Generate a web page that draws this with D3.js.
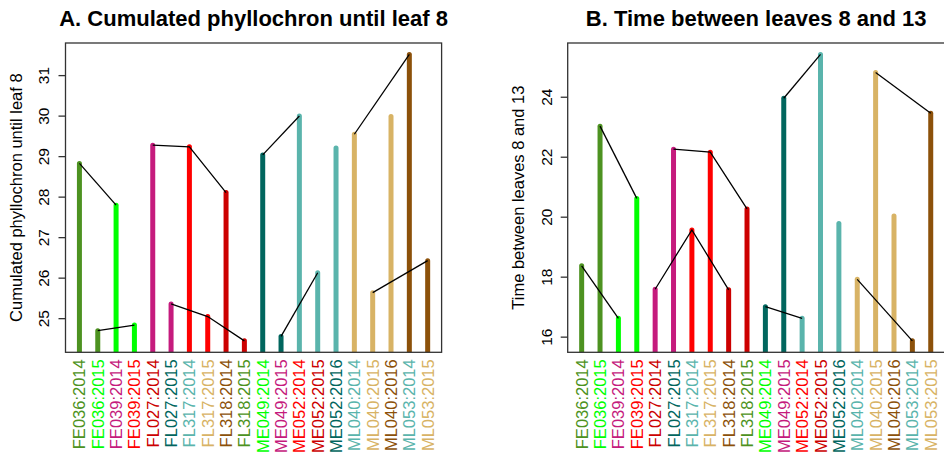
<!DOCTYPE html>
<html>
<head>
<meta charset="utf-8">
<script src="https://cdn.jsdelivr.net/npm/d3@7"></script>
<style>
  html, body { margin: 0; padding: 0; background: #ffffff; }
  svg { display: block; font-family: "Liberation Sans", Arial, Helvetica, sans-serif; }
</style>
</head>
<body>
<svg id="chart" width="944" height="461"></svg>
<script>
// Genotype:year combinations along the x axis
const labels = [
  "FE036:2014", "FE036:2015", "FE039:2014", "FE039:2015", "FL027:2014",
  "FL027:2015", "FL317:2014", "FL317:2015", "FL318:2014", "FL318:2015",
  "ME049:2014", "ME049:2015", "ME052:2014", "ME052:2015", "ME052:2016",
  "ML040:2014", "ML040:2015", "ML040:2016", "ML053:2014", "ML053:2015"
];

// Palette
const OLIVE = "#4d9221", GREEN = "#00ff00", MAGENTA = "#c51b7d", RED = "#ff0000",
      DARKRED = "#cc0000", DARKTEAL = "#01665e", LIGHTTEAL = "#5ab4ac",
      TAN = "#d8b365", BROWN = "#8c510a";

const labelColors = [
  OLIVE, GREEN, MAGENTA, RED, DARKRED, DARKTEAL, LIGHTTEAL, TAN, BROWN, OLIVE,
  GREEN, MAGENTA, RED, DARKRED, DARKTEAL, LIGHTTEAL, TAN, BROWN, LIGHTTEAL, TAN
];

const barColors = [
  OLIVE, OLIVE, GREEN, GREEN, MAGENTA, MAGENTA, RED, RED, DARKRED, DARKRED,
  DARKTEAL, DARKTEAL, LIGHTTEAL, LIGHTTEAL, LIGHTTEAL, TAN, TAN, TAN, BROWN, BROWN
];

// A. Cumulated phyllochron until leaf 8
const cumPhyllochron = [
  28.82, 24.69, 27.79, 24.83, 29.27, 25.35, 29.23, 25.04, 28.10, 24.44,
  29.03, 24.55, 29.99, 26.12, 29.20, 29.54, 25.63, 29.98, 31.51, 26.42
];

// B. Time between leaves 8 and 13
const timeLeaves = [
  18.36, 23.02, 16.61, 20.61, 17.58, 22.25, 19.56, 22.15, 17.56, 20.26,
  17.00, 23.95, 16.61, 25.41, 19.77, 17.91, 24.81, 20.02, 15.86, 23.45
];

// Bars joined by a black segment (0-based indices)
const links = [[0, 2], [1, 3], [4, 6, 8], [5, 7, 9], [10, 12], [11, 13], [15, 18], [16, 19]];

const ticksA = [25, 26, 27, 28, 29, 30, 31];
const ticksB = [16, 18, 20, 22, 24];

const svg = d3.select("#chart");

function panel(cfg) {
  const { id, values, ticks, title, ylab, left, right, top, bottom, ylabX, tickLabX } = cfg;
  const n = values.length;
  const padX = 0.04 * (n - 1);
  const x = d3.scaleLinear().domain([1 - padX, n + padX]).range([left, right]);
  const [lo, hi] = d3.extent(values);
  const padY = 0.04 * (hi - lo);
  const y = d3.scaleLinear().domain([lo - padY, hi + padY]).range([bottom, top]);

  const g = svg.append("g");

  svg.append("clipPath").attr("id", "clip-" + id)
    .append("rect").attr("x", left).attr("y", top)
    .attr("width", right - left).attr("height", bottom - top);

  const plot = g.append("g").attr("clip-path", `url(#clip-${id})`);

  // vertical bars from the value down to the axis
  plot.selectAll("line.bar").data(values).join("line")
    .attr("class", "bar")
    .attr("x1", (d, i) => x(i + 1)).attr("x2", (d, i) => x(i + 1))
    .attr("y1", d => y(d)).attr("y2", bottom + 10)
    .attr("stroke", (d, i) => barColors[i])
    .attr("stroke-width", 5)
    .attr("stroke-linecap", "round");

  // connecting segments
  const lineGen = d3.line().x(i => x(i + 1)).y(i => y(values[i]));
  plot.selectAll("path.link").data(links).join("path")
    .attr("class", "link")
    .attr("d", lineGen)
    .attr("fill", "none")
    .attr("stroke", "#000")
    .attr("stroke-width", 1.3);

  // frame
  g.append("rect")
    .attr("x", left).attr("y", top)
    .attr("width", right - left).attr("height", bottom - top)
    .attr("fill", "none").attr("stroke", "#333").attr("stroke-width", 1.3);

  // y axis
  const yAxis = g.append("g").attr("transform", `translate(${left},0)`)
    .call(d3.axisLeft(y).tickValues(ticks).tickSize(7).tickFormat(d3.format("d")));
  yAxis.select(".domain").remove();
  yAxis.selectAll(".tick line").attr("stroke", "#333").attr("stroke-width", 1.3);
  yAxis.selectAll(".tick text")
    .attr("x", 0).attr("dy", null)
    .attr("transform", `translate(${tickLabX - left},0) rotate(-90)`)
    .attr("text-anchor", "middle")
    .attr("font-size", 15.5)
    .attr("fill", "#000");

  // x axis labels
  const xAxis = g.append("g").attr("transform", `translate(0,${bottom})`)
    .call(d3.axisBottom(x).tickValues(d3.range(1, n + 1)).tickSize(0)
      .tickFormat(i => labels[i - 1]));
  xAxis.select(".domain").remove();
  xAxis.selectAll(".tick text")
    .attr("y", 0).attr("x", 0).attr("dy", null)
    .attr("transform", "translate(5.5,7) rotate(-90)")
    .attr("text-anchor", "end")
    .attr("font-size", 16.5)
    .attr("fill", (d, i) => labelColors[i]);

  // axis title
  g.append("text")
    .attr("transform", `translate(${ylabX},${(top + bottom) / 2}) rotate(-90)`)
    .attr("text-anchor", "middle")
    .attr("font-size", 16.5)
    .text(ylab);

  // panel title
  g.append("text")
    .attr("x", (left + right) / 2).attr("y", 26)
    .attr("text-anchor", "middle")
    .attr("font-size", 22).attr("font-weight", "bold")
    .text(title);
}

panel({
  id: "a", values: cumPhyllochron, ticks: ticksA,
  title: "A. Cumulated phyllochron until leaf 8",
  ylab: "Cumulated phyllochron until leaf 8",
  left: 65.5, right: 441.6, top: 43, bottom: 352.3, ylabX: 22, tickLabX: 49
});

panel({
  id: "b", values: timeLeaves, ticks: ticksB,
  title: "B. Time between leaves 8 and 13",
  ylab: "Time between leaves 8 and 13",
  left: 567.7, right: 944.7, top: 43, bottom: 352.3, ylabX: 524, tickLabX: 551.5
});
</script>
</body>
</html>
